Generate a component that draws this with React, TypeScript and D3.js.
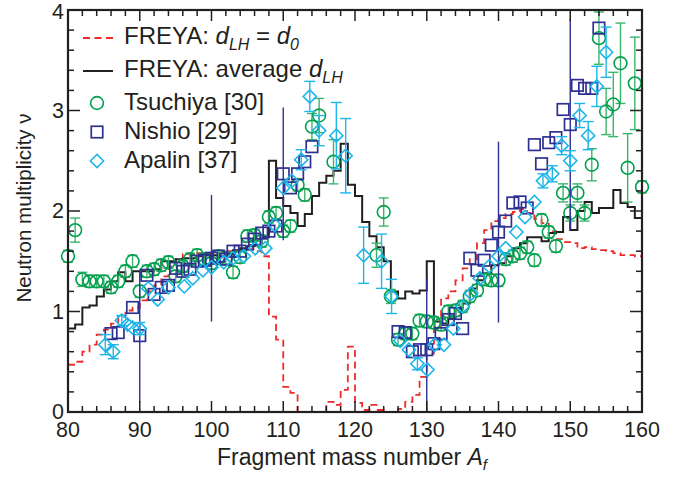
import React from 'react';
import * as d3 from 'd3';

// ---------- DATA ----------
const freyaStartMass = 80;
// FREYA d_LH = d_0 (red dashed), one value per mass bin 80..159
const freyaD0 = [
  0.47, 0.50, 0.60, 0.67, 0.77, 0.82, 0.88, 0.95, 1.01, 1.04,
  1.11, 1.20, 1.26, 1.35, 1.45, 1.52, 1.57, 1.56, 1.58, 1.58,
  1.57, 1.58, 1.60, 1.61, 1.62, 1.62, 1.60, 1.55, 0.95, 0.72,
  0.25, 0.19, 0.0, 0.0, 0.0, 0.0, 0.10, 0.07, 0.22, 0.65,
  0.09, 0.02, 0.07, 0.02, 0.0, 0.0, 0.03, 0.10, 0.17, 0.35,
  0.58, 0.85, 1.13, 1.20, 1.31, 1.43, 1.52, 1.68, 1.81, 1.90,
  1.93, 1.97, 1.99, 2.02, 1.98, 1.92, 1.88, 1.80, 1.72, 1.69,
  1.68, 1.63, 1.64, 1.62, 1.61, 1.60, 1.58, 1.56, 1.56, 1.55,
];
// FREYA average d_LH (black solid)
const freyaAvg = [
  0.83, 0.87, 1.04, 1.06, 1.15, 1.22, 1.30, 1.39, 1.30, 1.40,
  1.40, 1.40, 1.42, 1.50, 1.50, 1.52, 1.53, 1.53, 1.55, 1.56,
  1.56, 1.55, 1.57, 1.61, 1.63, 1.65, 1.66, 1.74, 2.50, 2.13,
  2.05, 1.98, 1.85, 1.97, 2.15, 2.28, 2.35, 2.40, 2.67, 2.26,
  2.15, 1.89, 1.75, 1.64, 1.50, 1.20, 1.13, 1.20, 1.18, 1.21,
  1.50, 0.90, 0.88, 0.93, 1.03, 1.08, 1.23, 1.31, 1.38, 1.46,
  1.48, 1.55, 1.63, 1.68, 1.74, 1.74, 1.70, 1.78, 1.79, 1.94,
  1.81, 2.00, 2.09, 1.98, 2.03, 2.03, 2.21, 2.08, 2.04, 1.93,
];

// Tsuchiya [30]
const tsuMass = [80, 81, 82, 83, 84, 85, 86, 87, 88, 89, 90, 91, 92, 93, 94, 95, 96, 97, 98, 99,
  100, 101, 102, 103, 104, 105, 106, 107, 108, 109, 110, 111, 112, 113, 114, 115, 117, 123, 124, 125,
  126, 127, 128, 129, 130, 131, 132, 133, 134, 135, 136, 137, 138, 139, 140, 141, 142, 143, 144, 145,
  146, 147, 148, 149, 150, 151, 152, 153, 154, 155, 156, 157, 158, 159, 160];
const tsuNu = [1.55, 1.81, 1.32, 1.30, 1.30, 1.30, 1.24, 1.30, 1.40, 1.50, 1.20, 1.40, 1.42, 1.46, 1.49, 1.35, 1.45, 1.52, 1.56, 1.52,
  1.48, 1.55, 1.53, 1.39, 1.54, 1.75, 1.76, 1.70, 1.94, 1.98, 1.80, 1.85, 2.26, 2.16, 2.84, 2.95, 2.49, 1.56, 1.99, 1.15,
  0.72, 0.78, 0.78, 0.91, 0.90, 0.89, 0.87, 1.00, 1.01, 1.05, 1.15, 1.21, 1.32, 1.31, 1.31, 1.52, 1.55, 1.58, 1.64, 1.51,
  1.91, 1.79, 1.65, 2.18, 1.98, 2.18, 1.98, 2.46, 3.72, 2.99, 3.06, 3.47, 2.43, 3.27, 2.24];
const tsuErr = [0.06, 0.12, 0.07, 0.06, 0.06, 0.06, 0.06, 0.06, 0.06, 0.06, 0.06, 0.06, 0.06, 0.06, 0.06, 0.06, 0.06, 0.06, 0.06, 0.06,
  0.06, 0.06, 0.06, 0.06, 0.06, 0.06, 0.06, 0.06, 0.06, 0.06, 0.06, 0.06, 0.06, 0.06, 0.13, 0.17, 0.22, 0.12, 0.14, 0.07,
  0.06, 0.06, 0.06, 0.06, 0.06, 0.06, 0.06, 0.06, 0.06, 0.06, 0.06, 0.06, 0.06, 0.06, 0.06, 0.06, 0.06, 0.06, 0.06, 0.06,
  0.06, 0.06, 0.06, 0.09, 0.08, 0.09, 0.08, 0.16, 0.26, 0.23, 0.32, 0.40, 0.34, 0.46, 0.06];

// Nishio [29]
const nisMass = [86, 87, 89, 90, 91, 92, 93, 94, 95, 96, 97, 98, 99, 100, 101, 102, 103, 104, 105, 106,
  107, 108, 109, 110, 111, 112, 113, 114, 126, 127, 128, 129, 130, 131, 132, 133, 134, 135, 136, 137,
  138, 139, 140, 141, 142, 143, 144, 145, 146, 147, 148, 149, 150, 151, 152, 153, 154];
const nisNu = [0.78, 0.79, 1.04, 0.76, 1.36, 1.17, 1.24, 1.26, 1.43, 1.40, 1.42, 1.50, 1.51, 1.53, 1.55, 1.52, 1.60, 1.60, 1.67, 1.72,
  1.78, 1.80, 1.85, 2.37, 2.23, 2.37, 2.49, 2.64, 0.80, 0.79, 0.60, 0.62, 0.62, 0.68, 0.78, 0.92, 0.98, 0.83, 1.53, 1.41,
  1.51, 1.66, 1.79, 1.90, 2.08, 2.09, 2.03, 2.66, 2.47, 2.68, 2.73, 3.01, 2.86, 3.25, 3.22, 3.22, 3.82];
const nisErrMass = [90, 100, 110, 130, 140, 150];
const nisErrVal = [0.66, 0.63, 0.66, 0.71, 0.90, 1.05];

// Apalin [37]
const apaMass = [85.2, 86.3, 87.5, 88.3, 89.0, 90.0, 91.2, 92.5, 94.0, 96.2, 97.4, 98.8, 100.0, 101.7, 103.0, 104.5, 106.1, 107.5, 108.8, 110.0,
  111.2, 112.5, 113.7, 115.0, 117.4, 118.7, 121.2, 123.7, 125.1, 126.3, 127.5, 128.7, 130.1, 131.1, 132.4, 133.7, 135.0, 136.2, 137.4, 138.7,
  140.0, 141.0, 142.5, 143.7, 145.0, 146.2, 147.5, 148.8, 150.0, 151.3, 152.5, 153.7, 155.0];
const apaNu = [0.67, 0.60, 0.91, 0.87, 0.84, 0.83, 1.23, 1.12, 1.24, 1.25, 1.33, 1.41, 1.44, 1.49, 1.53, 1.55, 1.63, 1.63, 1.86, 2.23,
  2.30, 2.51, 3.14, 2.80, 2.75, 2.55, 1.56, 1.50, 1.15, 0.71, 0.62, 0.48, 0.42, 0.67, 0.67, 0.83, 1.05, 1.18, 1.33, 1.45,
  1.55, 1.63, 1.79, 1.94, 2.09, 2.30, 2.37, 2.65, 2.50, 2.95, 2.75, 3.24, 3.58];
const apaErr = [0.10, 0.07, 0.05, 0, 0, 0.06, 0, 0, 0, 0, 0, 0, 0, 0, 0, 0, 0, 0, 0, 0,
  0, 0.10, 0.15, 0.15, 0.33, 0.37, 0.28, 0.27, 0.17, 0, 0, 0.06, 0, 0, 0, 0, 0, 0, 0, 0,
  0, 0, 0, 0, 0, 0.07, 0.08, 0.09, 0.10, 0.12, 0.14, 0.20, 0.25];

const xTickLabels = [80, 90, 100, 110, 120, 130, 140, 150, 160];
const yTickLabels = [0, 1, 2, 3, 4];

// ---------- STYLE ----------
const FONT = "'Liberation Sans', Arial, Helvetica, sans-serif";
const RED = '#ee2b2b';
const BLACK = '#231f20';
const GREEN = '#00a04f';
const GREEN_BAR = '#3cb56c';
const BLUE = '#2e3192';
const CYAN = '#1db6e8';

const W = 686, H = 478;
const L = 68, R = 642, T = 10, B = 412;

function Circle({ cx, cy }: { cx: number; cy: number }) {
  return <circle cx={cx} cy={cy} r={6.4} fill="none" stroke={GREEN} strokeWidth={1.6} />;
}
function Square({ cx, cy }: { cx: number; cy: number }) {
  const s = 11.5;
  return <rect x={cx - s / 2} y={cy - s / 2} width={s} height={s} fill="none" stroke={BLUE} strokeWidth={1.7} />;
}
function Diamond({ cx, cy }: { cx: number; cy: number }) {
  const s = 6.6;
  return <path d={`M${cx},${cy - s}L${cx + s},${cy}L${cx},${cy + s}L${cx - s},${cy}Z`} fill="none" stroke={CYAN} strokeWidth={1.6} />;
}

export default function App() {
  const x = d3.scaleLinear().domain([80, 160]).range([L, R]);
  const y = d3.scaleLinear().domain([0, 4]).range([B, T]);

  const stepLine = d3.line<[number, number]>()
    .x(d => x(d[0]))
    .y(d => y(d[1]))
    .curve(d3.curveStepAfter);
  const toSteps = (vals: number[]): [number, number][] => {
    const pts: [number, number][] = vals.map((v, i) => [freyaStartMass + i, v]);
    pts.push([freyaStartMass + vals.length, vals[vals.length - 1]]);
    return pts;
  };

  const errBar = (key: string, m: number, v: number, e: number, color: string, cap: number, w = 1.4) => {
    if (!e) return null;
    const lo = Math.max(0, v - e), hi = Math.min(4, v + e);
    const X = x(m);
    return (
      <g key={key} stroke={color} strokeWidth={w}>
        <line x1={X} x2={X} y1={y(lo)} y2={y(hi)} />
        {cap > 0 && v - e >= 0 && <line x1={X - cap} x2={X + cap} y1={y(lo)} y2={y(lo)} />}
        {cap > 0 && v + e <= 4 && <line x1={X - cap} x2={X + cap} y1={y(hi)} y2={y(hi)} />}
      </g>
    );
  };

  const xMinor = d3.range(80, 161, 2);
  const yMinor = d3.range(0, 4.001, 0.2);

  return (
    <svg width={W} height={H} style={{ position: 'absolute', left: 0, top: 0, background: '#fff' }} fontFamily={FONT}>
      <rect x={0} y={0} width={W} height={H} fill="#fff" />

      {/* FREYA curves */}
      <path d={stepLine(toSteps(freyaD0)) || ''} fill="none" stroke={RED} strokeWidth={1.8} strokeDasharray="7,4.5" />
      <path d={stepLine(toSteps(freyaAvg)) || ''} fill="none" stroke={BLACK} strokeWidth={2} />

      {/* Tsuchiya */}
      <g>
        {tsuMass.map((m, i) => errBar('te' + i, m, tsuNu[i], tsuErr[i], GREEN_BAR, 5, 1.4))}
        {tsuMass.map((m, i) => <Circle key={'tc' + i} cx={x(m)} cy={y(tsuNu[i])} />)}
      </g>

      {/* Nishio */}
      <g>
        {nisErrMass.map((m, i) => {
          const v = nisNu[nisMass.indexOf(m)];
          return errBar('ne' + i, m, v, nisErrVal[i], BLUE, 0, 1.4);
        })}
        {nisMass.map((m, i) => <Square key={'ns' + i} cx={x(m)} cy={y(nisNu[i])} />)}
      </g>

      {/* Apalin */}
      <g>
        {apaMass.map((m, i) => errBar('ae' + i, m, apaNu[i], apaErr[i], CYAN, 5.5, 1.4))}
        {apaMass.map((m, i) => <Diamond key={'ad' + i} cx={x(m)} cy={y(apaNu[i])} />)}
      </g>

      {/* Frame & ticks */}
      <g stroke={BLACK} strokeWidth={1.5}>
        {xMinor.map(t => {
          const major = t % 10 === 0;
          const len = major ? 11 : 6;
          return (
            <g key={'xt' + t}>
              <line x1={x(t)} x2={x(t)} y1={B} y2={B - len} />
              <line x1={x(t)} x2={x(t)} y1={T} y2={T + len} />
            </g>
          );
        })}
        {yMinor.map((t, i) => {
          const major = i % 5 === 0;
          const len = major ? 12 : 6;
          return (
            <g key={'yt' + i}>
              <line x1={L} x2={L + len} y1={y(t)} y2={y(t)} />
              <line x1={R} x2={R - len} y1={y(t)} y2={y(t)} />
            </g>
          );
        })}
      </g>
      <rect x={L} y={T} width={R - L} height={B - T} fill="none" stroke={BLACK} strokeWidth={2.2} />

      {/* Tick labels */}
      <g fontSize={21.5} fill={BLACK}>
        {xTickLabels.map(t => (
          <text key={'xl' + t} x={x(t)} y={437} textAnchor="middle">{t}</text>
        ))}
        {yTickLabels.map(t => (
          <text key={'yl' + t} x={64} y={y(t)} dy={t === 4 ? '0.42em' : '0.34em'} textAnchor="end">{t}</text>
        ))}
      </g>

      {/* Axis titles */}
      <text x={352} y={465} fontSize={23} textAnchor="middle" fill={BLACK}>
        Fragment mass number <tspan fontStyle="italic">A</tspan>
        <tspan fontStyle="italic" fontSize={15} dy={5}>f</tspan>
      </text>
      <text transform={`translate(31,208) rotate(-90)`} fontSize={20.5} textAnchor="middle" fill={BLACK}>
        Neutron multiplicity ν
      </text>

      {/* Legend */}
      <g fontSize={24} fill={BLACK}>
        <line x1={83} x2={113} y1={38} y2={38} stroke={RED} strokeWidth={1.8} strokeDasharray="7,4.5" />
        <text x={124} y={44}>
          FREYA: <tspan fontStyle="italic">d</tspan>
          <tspan fontStyle="italic" fontSize={16} dy={6}>LH</tspan>
          <tspan dy={-6}> = </tspan>
          <tspan fontStyle="italic">d</tspan>
          <tspan fontStyle="italic" fontSize={16} dy={6}>0</tspan>
        </text>
        <line x1={83} x2={113} y1={71} y2={71} stroke={BLACK} strokeWidth={2} />
        <text x={124} y={77}>
          FREYA: average <tspan fontStyle="italic">d</tspan>
          <tspan fontStyle="italic" fontSize={16} dy={6}>LH</tspan>
        </text>
        <Circle cx={97} cy={103} />
        <text x={124} y={110}>Tsuchiya [30]</text>
        <Square cx={97} cy={132} />
        <text x={124} y={139}>Nishio [29]</text>
        <Diamond cx={97} cy={161} />
        <text x={124} y={168}>Apalin [37]</text>
      </g>
    </svg>
  );
}
